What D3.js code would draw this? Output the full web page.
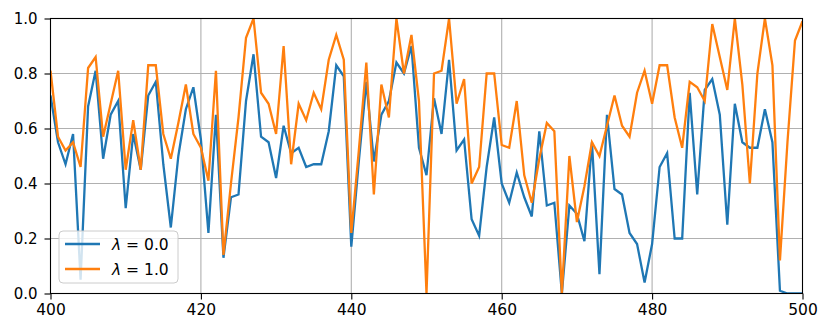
<!DOCTYPE html>
<html>
<head>
<meta charset="utf-8">
<script src="https://cdn.jsdelivr.net/npm/d3@7"></script>
<style>
body { margin: 0; background: #fff; }
text { font-family: "DejaVu Sans", sans-serif; fill: #000; }
</style>
</head>
<body>
<script>
// x positions (one sample per step)
var xs = d3.range(400, 501);

// lambda = 0.0
var lam0 = [0.72, 0.55, 0.47, 0.58, 0.05, 0.68, 0.81, 0.49, 0.65, 0.70,
    0.31, 0.58, 0.45, 0.72, 0.77, 0.47, 0.24, 0.50, 0.67, 0.75,
    0.56, 0.22, 0.65, 0.13, 0.35, 0.36, 0.70, 0.87, 0.57, 0.55,
    0.42, 0.61, 0.51, 0.53, 0.46, 0.47, 0.47, 0.59, 0.83, 0.79,
    0.17, 0.48, 0.77, 0.48, 0.65, 0.70, 0.84, 0.80, 0.90, 0.53,
    0.43, 0.71, 0.58, 0.85, 0.52, 0.56, 0.27, 0.21, 0.46, 0.64,
    0.40, 0.33, 0.44, 0.35, 0.28, 0.59, 0.32, 0.33, 0.00, 0.32,
    0.29, 0.19, 0.55, 0.07, 0.65, 0.38, 0.36, 0.22, 0.18, 0.04,
    0.18, 0.46, 0.51, 0.20, 0.20, 0.73, 0.36, 0.74, 0.78, 0.65,
    0.25, 0.69, 0.55, 0.53, 0.53, 0.67, 0.55, 0.01, 0.00, 0.00,
    0.00];

// lambda = 1.0
var lam1 = [0.81, 0.57, 0.52, 0.55, 0.46, 0.82, 0.86, 0.57, 0.69, 0.81,
    0.45, 0.63, 0.45, 0.83, 0.83, 0.58, 0.49, 0.62, 0.76, 0.58,
    0.53, 0.41, 0.81, 0.14, 0.40, 0.64, 0.93, 1.00, 0.73, 0.69,
    0.58, 0.90, 0.47, 0.69, 0.63, 0.73, 0.67, 0.85, 0.94, 0.85,
    0.22, 0.52, 0.84, 0.36, 0.76, 0.64, 1.00, 0.80, 0.94, 0.70,
    0.00, 0.80, 0.81, 1.00, 0.69, 0.78, 0.40, 0.46, 0.80, 0.80,
    0.54, 0.53, 0.70, 0.43, 0.33, 0.49, 0.62, 0.59, 0.00, 0.50,
    0.26, 0.39, 0.55, 0.50, 0.61, 0.72, 0.61, 0.57, 0.73, 0.81,
    0.69, 0.83, 0.83, 0.64, 0.53, 0.77, 0.75, 0.70, 0.98, 0.86,
    0.74, 1.00, 0.76, 0.40, 0.80, 1.00, 0.83, 0.12, 0.55, 0.92,
    0.99];

var xTicks = [400, 420, 440, 460, 480, 500];
var yTicks = [0, 0.2, 0.4, 0.6, 0.8, 1.0];
var seriesNames = ["0.0", "1.0"];
var colors = ["#1f77b4", "#ff7f0e"];

var width = 831, height = 334;
var pLeft = 50.5, pRight = 802.5, pTop = 18.5, pBottom = 293.5;

var svg = d3.select("body").append("svg")
    .attr("width", width)
    .attr("height", height);

var x = d3.scaleLinear().domain([400, 500]).range([pLeft, pRight]);
var y = d3.scaleLinear().domain([0, 1]).range([pBottom, pTop]);

//grid
svg.append("g").selectAll("line")
    .data(xTicks.slice(1, -1))
    .enter().append("line")
    .attr("x1", function(d){ return x(d); })
    .attr("x2", function(d){ return x(d); })
    .attr("y1", pTop).attr("y2", pBottom)
    .attr("stroke", "#b0b0b0").attr("stroke-width", 1.1);

svg.append("g").selectAll("line")
    .data(yTicks.slice(1, -1))
    .enter().append("line")
    .attr("y1", function(d){ return y(d); })
    .attr("y2", function(d){ return y(d); })
    .attr("x1", pLeft).attr("x2", pRight)
    .attr("stroke", "#b0b0b0").attr("stroke-width", 1.1);

svg.append("clipPath").attr("id", "clip")
    .append("rect")
    .attr("x", pLeft).attr("y", pTop)
    .attr("width", pRight - pLeft).attr("height", pBottom - pTop);

var line = d3.line()
    .x(function(d, i){ return x(xs[i]); })
    .y(function(d){ return y(d); });

[lam0, lam1].forEach(function(s, k){
    svg.append("path")
        .datum(s)
        .attr("clip-path", "url(#clip)")
        .attr("fill", "none")
        .attr("stroke", colors[k])
        .attr("stroke-width", 2.3)
        .attr("stroke-linejoin", "miter")
        .attr("d", line);
});

//axes
var xAxis = d3.axisBottom(x).tickValues(xTicks).tickSize(6).tickPadding(4)
    .tickFormat(d3.format("d"));
var gx = svg.append("g")
    .attr("transform", "translate(0," + pBottom + ")")
    .call(xAxis);
gx.select(".domain").remove();
gx.selectAll("line").attr("stroke", "#000").attr("stroke-width", 1.1);
gx.selectAll("text").style("font-size", "15.5px")
    .style("font-family", "DejaVu Sans").attr("fill", "#000");

var yAxis = d3.axisLeft(y).tickValues(yTicks).tickSize(6).tickPadding(7)
    .tickFormat(d3.format(".1f"));
var gy = svg.append("g")
    .attr("transform", "translate(" + pLeft + ",0)")
    .call(yAxis);
gy.select(".domain").remove();
gy.selectAll("line").attr("stroke", "#000").attr("stroke-width", 1.1);
gy.selectAll("text").style("font-size", "15px")
    .style("font-family", "DejaVu Sans").attr("fill", "#000");

//frame
svg.append("rect")
    .attr("x", pLeft).attr("y", pTop)
    .attr("width", pRight - pLeft).attr("height", pBottom - pTop)
    .attr("fill", "none")
    .attr("stroke", "#000").attr("stroke-width", 1.1);

//legend
var leg = svg.append("g").attr("transform", "translate(59,231)");
leg.append("rect")
    .attr("width", 119).attr("height", 52)
    .attr("rx", 4).attr("ry", 4)
    .attr("fill", "#fff").attr("fill-opacity", 0.8)
    .attr("stroke", "#cccccc").attr("stroke-width", 1);

seriesNames.forEach(function(name, k){
    var ly = 13 + k * 25;
    leg.append("line")
        .attr("x1", 6).attr("x2", 41)
        .attr("y1", ly).attr("y2", ly)
        .attr("stroke", colors[k]).attr("stroke-width", 2.3);
    var t = leg.append("text")
        .attr("x", 53).attr("y", ly + 5.5)
        .style("font-size", "15.5px");
    t.append("tspan").style("font-style", "italic").text("λ");
    t.append("tspan").text(" = " + name);
});
</script>
</body>
</html>
